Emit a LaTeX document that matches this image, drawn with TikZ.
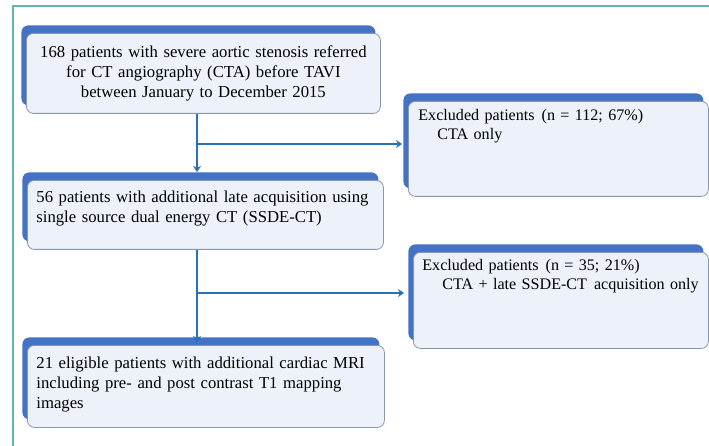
\documentclass[tikz,border=0pt]{standalone}
\usepackage{fontspec}
\setmainfont{Liberation Serif}
\usepackage{tikz}
\usetikzlibrary{arrows.meta,calc,shadows}
\definecolor{panelblue}{RGB}{68,114,196}
\definecolor{panelfill}{RGB}{237,241,249}
\definecolor{panelline}{RGB}{138,150,172}
\definecolor{arrowblue}{RGB}{40,114,184}
\definecolor{frameteal}{RGB}{96,182,168}
\tikzset{
  stage/.style={draw=panelline, line width=0.8pt, rounded corners=7pt, fill=panelfill, anchor=north west,
    inner xsep=9pt, inner ysep=0pt, font=\fontsize{16.7}{20}\selectfont,
    general shadow={fill=panelblue, shadow xshift=-5pt, shadow yshift=8pt}},
  excl/.style={stage, align=left, font=\fontsize{16.1}{19}\selectfont},
  flow/.style={-{Stealth[length=6pt,width=8pt,inset=2pt]}, line width=1.8pt, draw=arrowblue, fill=arrowblue},
  frame/.style={draw=frameteal, line width=1.3pt}
}

\begin{document}
\begin{tikzpicture}[x=1pt,y=-1pt]
  \clip (0,0) rectangle (709,446);
  \fill[white] (0,0) rectangle (709,446);
  \draw[frame] (13,6) rectangle (730,470);

  \node[stage, align=center, text width=336pt, text height=24pt, text depth=56pt] (screen) at (26,33)
    {168 patients with severe aortic stenosis referred\\for CT angiography (CTA) before TAVI\\between January to December 2015};
  \node[stage, align=left, text width=338pt, text height=22pt, text depth=47pt] (late) at (27,180)
    {56 patients with additional late acquisition using\\single source dual energy CT (SSDE-CT)};
  \node[stage, align=left, text width=339pt, text height=23pt, text depth=59pt] (mri) at (27,345)
    {21 eligible patients with additional cardiac MRI\\including pre- and post contrast T1 mapping\\images};

  \node[excl, inner xsep=10pt, text width=280pt, text height=19pt, text depth=76pt] (excta) at (408,101)
    {Excluded patients\hspace{7pt}(n = 112; 67\%)\\\hspace*{19pt}CTA only};
  \node[excl, text width=277pt, text height=18pt, text depth=78pt] (exlate) at (413,252)
    {Excluded patients\hspace{7pt}(n = 35; 21\%)\\\hspace*{20pt}\mbox{CTA + late SSDE-CT\hspace{7pt}acquisition only}};

  \coordinate (split1) at (197,144);
  \coordinate (split2) at (197,293);

  \draw[flow, shorten >=8pt] (screen.south -| split1) -- (late.north -| split1);
  \draw[flow, shorten >=6pt] (split1) -- (excta.west |- split1);
  \draw[flow, shorten >=3pt] (late.south -| split2) -- (mri.north -| split2);
  \draw[flow, shorten >=9pt] (split2) -- (exlate.west |- split2);
\end{tikzpicture}
\end{document}
